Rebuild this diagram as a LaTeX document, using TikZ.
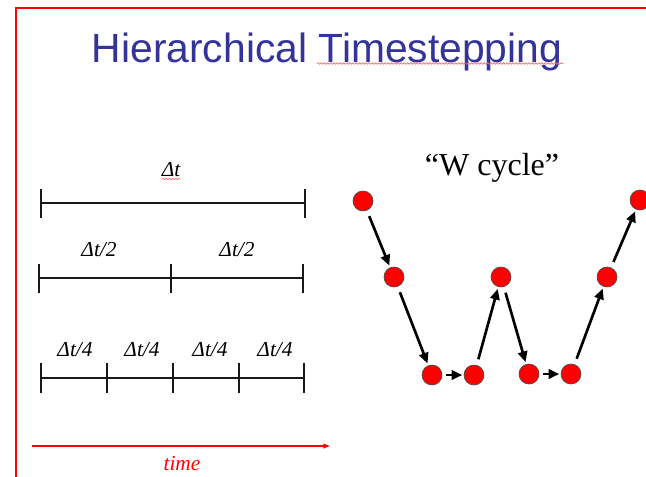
\documentclass[tikz,border=0pt]{standalone}
\usepackage{fontspec}
\setmainfont{Liberation Serif}
\newfontfamily\titlefont{Liberation Sans}
\usetikzlibrary{arrows.meta,decorations.pathmorphing}
\definecolor{titleblue}{RGB}{51,51,153}
\definecolor{dotred}{RGB}{255,0,0}
\begin{document}
\begin{tikzpicture}[x=0.75pt,y=-0.75pt,
  tline/.style={line width=1.5pt,black!90},
  tick/.style={line width=1.7pt,black!90},
  lab/.style={font=\fontsize{16}{18}\selectfont\itshape,anchor=base,inner sep=0},
  dot/.style={circle,fill=dotred,draw=black!70,line width=0.5pt,minimum size=15pt,inner sep=0},
  conn/.style={line width=2pt,-{Triangle[length=8pt,width=7pt]},shorten <=4.5pt,shorten >=1.5pt},
  squig/.style={red!60,line width=0.5pt,decorate,decoration={snake,amplitude=0.6pt,segment length=2.4pt}}]
\useasboundingbox (0,0) rectangle (646,476);
% frame
\draw[dotred,line width=1.5pt] (16,480) -- (16,8) -- (650,8);
% title
\node[anchor=base,inner sep=0,text=titleblue,font=\titlefont\fontsize{30.6}{34}\selectfont] (title) at (327,62) {Hierarchical Timestepping};
\draw[squig] (317,63.5) -- (563,63.5);
% timelines
\draw[tline] (41,203) -- (305,203);
\foreach \x in {41,305} \draw[tick] (\x,189) -- (\x,218);
\node[lab] (dt) at (171,176.5) {Δt};
\draw[squig] (162,179) -- (180,179);

\draw[tline] (39,278) -- (303,278);
\foreach \x in {39,171,303} \draw[tick] (\x,264) -- (\x,293);
\node[lab] (dta) at (99,256) {Δt/2};
\node[lab] (dtb) at (237,256) {Δt/2};

\draw[tline] (41,378) -- (304,378);
\foreach \x in {41,107,173,239,304} \draw[tick] (\x,363) -- (\x,393);
\node[lab] (q1) at (75,356.5) {Δt/4};
\node[lab] (q2) at (142,356.5) {Δt/4};
\node[lab] (q3) at (210,356.5) {Δt/4};
\node[lab] (q4) at (275,356.5) {Δt/4};

\coordinate (ts) at (32,446);
\coordinate (te) at (330,446);
\draw[dotred,line width=1.1pt,-{Triangle[length=5pt,width=3.5pt]}] (ts) -- (te);
\node[lab,text=dotred] (time) at (182,470) {time};

% W cycle
\node[anchor=base,inner sep=0,font=\fontsize{24}{27}\selectfont] (wc) at (492,175.5) {“W cycle”};
\node[dot] (c1) at (363,201) {};
\node[dot] (c2) at (394,277) {};
\node[dot] (c3) at (432,375) {};
\node[dot] (c4) at (474,375) {};
\node[dot] (c5) at (501,277) {};
\node[dot] (c6) at (529,374) {};
\node[dot] (c7) at (571,374) {};
\node[dot] (c8) at (607,277) {};
\node[dot] (c9) at (640,200) {};
\draw[conn] (c1) -- (c2);
\draw[conn] (c2) -- (c3);
\draw[conn,shorten <=3pt,shorten >=1pt] (c3) -- (c4);
\draw[conn] (c4) -- (c5);
\draw[conn] (c5) -- (c6);
\draw[conn,shorten <=3pt,shorten >=1pt] (c6) -- (c7);
\draw[conn] (c7) -- (c8);
\draw[conn] (c8) -- (c9);
\end{tikzpicture}
\end{document}
